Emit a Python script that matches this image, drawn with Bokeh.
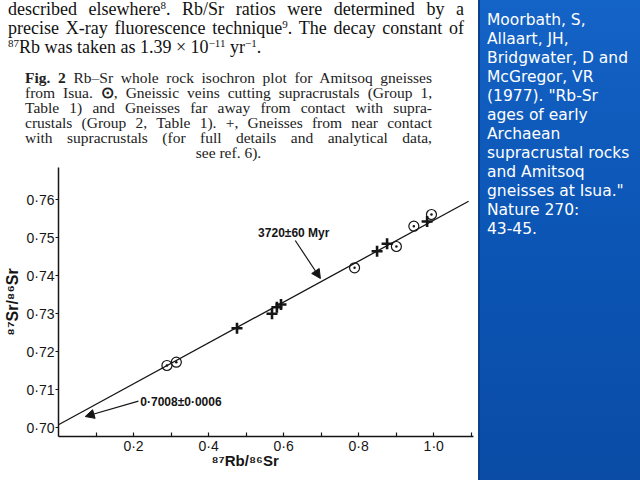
from bokeh.plotting import figure
from bokeh.models import Div, FixedTicker, Label, Arrow, NormalHead, Range1d, Title
from bokeh.layouts import row, column
from bokeh.embed import file_html
from bokeh.resources import INLINE

# ---------------- data ----------------
circle_x = [0.289, 0.314, 0.789, 0.9005, 0.947, 0.994]
circle_y = [0.7164, 0.71726, 0.74211, 0.74771, 0.75305, 0.75613]
cross_x = [0.4757, 0.569, 0.582, 0.593, 0.849, 0.8757, 0.9824]
cross_y = [0.72621, 0.7300, 0.73174, 0.73245, 0.74647, 0.74842, 0.75429]
isochron_x = [0.0, 1.093]
isochron_y = [0.7008, 0.75963]

y_ticks = [0.70, 0.71, 0.72, 0.73, 0.74, 0.75, 0.76]
y_tick_labels = ["0·70", "0·71", "0·72", "0·73", "0·74", "0·75", "0·76"]
x_ticks = [0.2, 0.4, 0.6, 0.8, 1.0]
x_tick_labels = ["0·2", "0·4", "0·6", "0·8", "1·0"]
x_minor_ticks = [0.1, 0.3, 0.5, 0.7, 0.9, 1.1]

age_text = "3720±60 Myr"
age_label_pos = (0.532, 0.75139)
age_arrow = (0.631, 0.74929, 0.698, 0.73929)
intercept_text = "0·7008±0·0006"
intercept_label_pos = (0.218, 0.70692)
intercept_arrow = (0.213, 0.70700, 0.0712, 0.70297)
x_label_text = "⁸⁷Rb/⁸⁶Sr"
y_label_text = "⁸⁷Sr/⁸⁶Sr"

SANS = "Liberation Sans, Arial, sans-serif"
INK = "#151515"

# ---------------- chart ----------------
p = figure(width=478, height=317,
           x_range=Range1d(0, 1.106), y_range=Range1d(0.69771, 0.7685),
           output_backend="svg", toolbar_location=None,
           min_border_left=58, min_border_right=5,
           min_border_top=4, min_border_bottom=44)
p.grid.visible = False
p.outline_line_color = None
p.background_fill_color = "white"
p.border_fill_color = "white"

xa = p.xaxis[0]
xa.ticker = FixedTicker(ticks=x_ticks, minor_ticks=x_minor_ticks)
xa.major_label_overrides = dict(zip(x_ticks, x_tick_labels))
xa.major_tick_in = 4
xa.major_tick_out = 0
xa.minor_tick_in = 4
xa.minor_tick_out = 0
xa.major_label_standoff = 1
xa.axis_line_width = 1.5
xa.axis_line_color = INK
xa.major_tick_line_color = INK
xa.minor_tick_line_color = INK
xa.major_tick_line_width = 1.2
xa.minor_tick_line_width = 1.2
xa.major_label_text_font = SANS
xa.major_label_text_font_size = "14px"
xa.major_label_text_color = INK

ya = p.yaxis[0]
ya.ticker = FixedTicker(ticks=y_ticks, minor_ticks=[])
ya.major_label_overrides = dict(zip(y_ticks, y_tick_labels))
ya.major_tick_in = 0
ya.major_tick_out = 3
ya.major_label_standoff = 1
ya.axis_line_width = 1.5
ya.axis_line_color = INK
ya.major_tick_line_color = INK
ya.major_tick_line_width = 1.2
ya.major_label_text_font = SANS
ya.major_label_text_font_size = "14px"
ya.major_label_text_color = INK
ya.axis_label = y_label_text
ya.axis_label_standoff = 2
ya.axis_label_text_font = SANS
ya.axis_label_text_font_size = "16px"
ya.axis_label_text_font_style = "bold"
ya.axis_label_text_color = INK

# x-axis title, placed left of the frame centre as in the original figure
p.add_layout(Title(text=x_label_text, align="left", offset=153, standoff=-13,
                   text_font=SANS, text_font_size="15px", text_font_style="bold",
                   text_color=INK), "below")

p.line(isochron_x, isochron_y, line_color=INK, line_width=1.3)
p.scatter(circle_x, circle_y, marker="circle_dot", size=10,
          fill_color=None, line_color=INK, line_width=1.2)
p.scatter(cross_x, cross_y, marker="cross", size=11,
          line_color=INK, line_width=2.6)

for (x0, y0, x1, y1) in (age_arrow, intercept_arrow):
    p.add_layout(Arrow(end=NormalHead(size=9, fill_color=INK, line_color=INK, line_width=1),
                       x_start=x0, y_start=y0, x_end=x1, y_end=y1,
                       line_color=INK, line_width=1.2))

p.add_layout(Label(x=age_label_pos[0], y=age_label_pos[1], text=age_text,
                   text_font=SANS, text_font_size="12px", text_font_style="bold",
                   text_color=INK, text_baseline="middle", text_align="left"))
p.add_layout(Label(x=intercept_label_pos[0], y=intercept_label_pos[1], text=intercept_text,
                   text_font=SANS, text_font_size="12px", text_font_style="bold",
                   text_color=INK, text_baseline="middle", text_align="left"))

# ---------------- text blocks ----------------
SUP = '<sup style="font-size:11px;line-height:0;vertical-align:6px">'
J = '<div style="text-align:justify;text-align-last:justify">'
top_html = (
    '<div style="font-family:\'Liberation Serif\',serif;font-size:18px;line-height:19px;'
    'color:#111;width:464px;padding-left:8px">'
    + J + 'described elsewhere' + SUP + '8</sup>. Rb/Sr ratios were determined by a</div>'
    + J + 'precise X-ray fluorescence technique' + SUP + '9</sup>. The decay constant of</div>'
    + '<div>' + SUP + '87</sup>Rb was taken as 1.39 × 10' + SUP + '−11</sup> yr' + SUP + '−1</sup>.</div>'
    + '</div>'
)
top_div = Div(text=top_html, width=478, height=62, margin=0)

cap_lines = [
    '<b>Fig. 2</b> Rb–Sr whole rock isochron plot for Amitsoq gneisses',
    'from Isua. <b>⊙</b>, Gneissic veins cutting supracrustals (Group 1,',
    'Table 1) and Gneisses far away from contact with supra-',
    'crustals (Group 2, Table 1). +, Gneisses from near contact',
    'with supracrustals (for full details and analytical data,',
]
cap_html = (
    '<div style="font-family:\'Liberation Serif\',serif;font-size:15.5px;line-height:15px;'
    'color:#222;width:432px;padding-left:25px;padding-top:7.5px">'
    + ''.join(J + t + '</div>' for t in cap_lines)
    + '<div style="text-align:center">see ref. 6).</div></div>'
)
cap_div = Div(text=cap_html, width=478, height=101, margin=0)

side_lines = ['Moorbath, S,', 'Allaart, JH,', 'Bridgwater, D and', 'McGregor, VR',
              '(1977). "Rb-Sr', 'ages of early', 'Archaean', 'supracrustal rocks',
              'and Amitsoq', 'gneisses at Isua."', 'Nature 270:', '43-45.']
side_html = (
    '<div style="font-family:\'DejaVu Sans\',Verdana,sans-serif;font-size:15.5px;line-height:19px;'
    'color:#ffffff;padding-left:7px;padding-top:11px;white-space:nowrap">'
    + '<br>'.join(side_lines) + '</div>'
)
side_div = Div(text=side_html, width=162, height=480, margin=0,
               styles={"background": "linear-gradient(180deg, #1463c6 0%, #0c56b6 45%, #0a4ca6 100%)",
                       "border-left": "2px solid #0b3f8f", "box-sizing": "border-box"})

layout = row(column(top_div, cap_div, p, spacing=0), side_div, spacing=0)

open("out.html", "w").write(file_html(layout, INLINE))
